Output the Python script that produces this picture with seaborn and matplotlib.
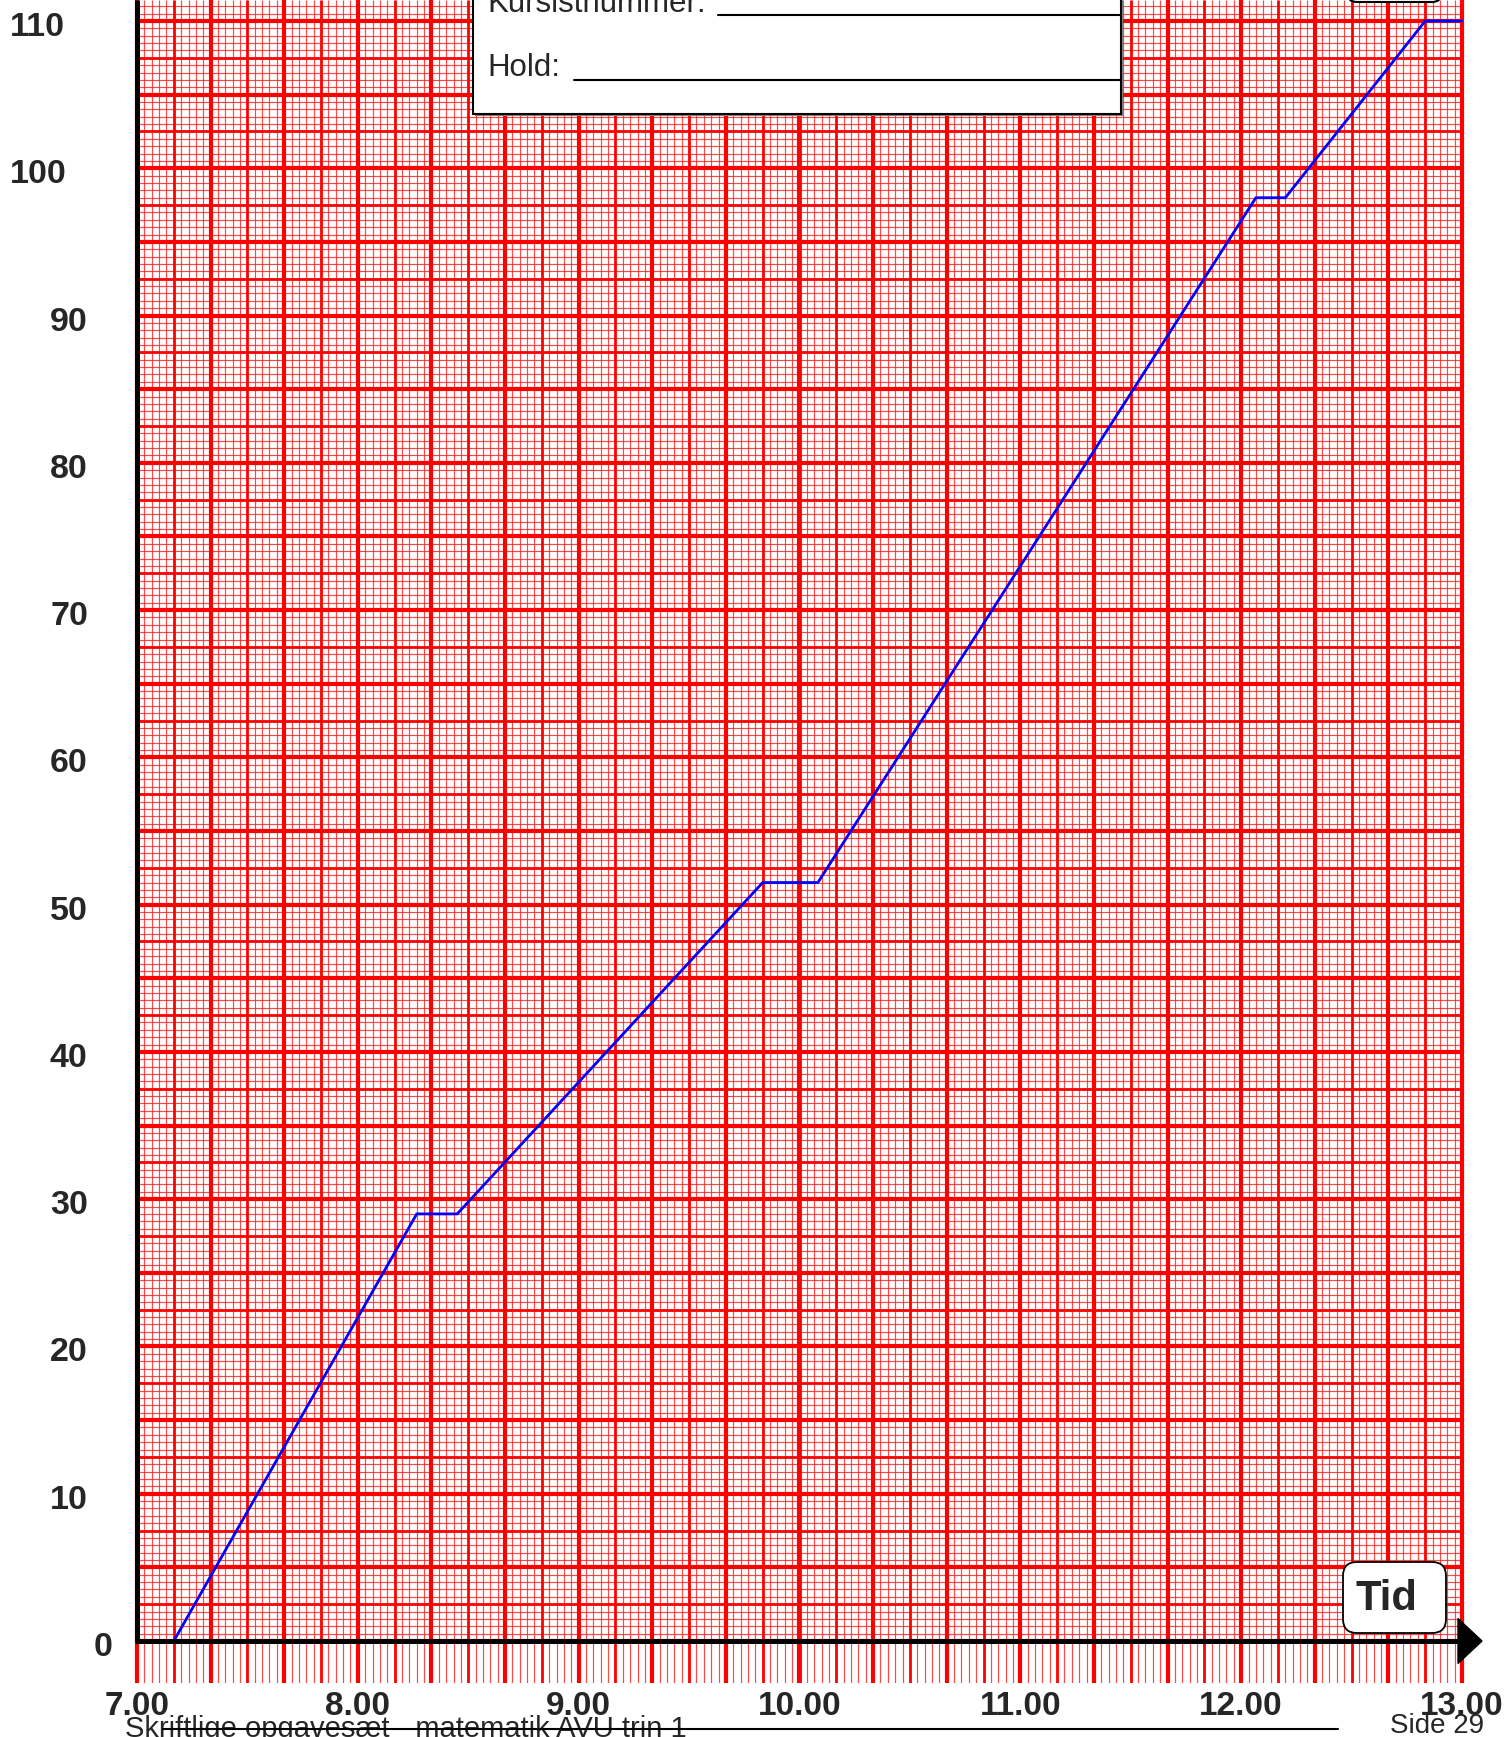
import numpy as np
import pandas as pd
import matplotlib.pyplot as plt
import matplotlib.transforms as mtransforms
from matplotlib.patches import Rectangle, FancyBboxPatch, Polygon
from matplotlib.lines import Line2D
import seaborn as sns

sns.set_style("white")
plt.rcParams["font.family"] = ["Liberation Sans", "DejaVu Sans"]

# data: clock time and distance
times = ["7:10", "8:16", "8:27", "9:50", "10:05", "12:04", "12:12", "12:50", "13:00"]
dist = [0, 29, 29, 51.5, 51.5, 98, 98, 110, 110]

x_ticks = [7, 8, 9, 10, 11, 12, 13]
x_labels = ["7.00", "8.00", "9.00", "10.00", "11.00", "12.00", "13.00"]
y_ticks = [0, 10, 20, 30, 40, 50, 60, 70, 80, 90, 100, 110]
y_labels = ["0", "10", "20", "30", "40", "50", "60", "70", "80", "90", "100", "110"]

footer = "Skriftlige opgavesæt - matematik AVU trin 1"
page = "Side 29"
form_fields = ["Kursistnummer:", "Hold:"]
x_title = "Tid"


def to_hours(t):
    h, m = t.split(":")
    return int(h) + int(m) / 60


df = pd.DataFrame({"tid": [to_hours(t) for t in times], "km": dist})

W, H = 1509, 1737
fig = plt.figure(figsize=(W / 100, H / 100), dpi=100)
PX = mtransforms.IdentityTransform()


def P(x, y):  # pixel position measured from top-left
    return x, H - y


# axes: 7.00 at x=137px, 13.00 at 1462px; 0 at y=1641px, 110 at 21px
x0px, x1px = 137, 1462
ppu_x = (x1px - x0px) / 6
ppu_y = (1641 - 21) / 110
left, right = 130, 1470
bottom = 1683
ax = fig.add_axes([left / W, (H - bottom) / H, (right - left) / W, bottom / H])
ax.set_xlim(7 - (x0px - left) / ppu_x, 13 + (right - x1px) / ppu_x)
ax.set_ylim(-(bottom - 1641) / ppu_y, 110 + 21 / ppu_y)
ybot, ymax = ax.get_ylim()
for s in ax.spines.values():
    s.set_visible(False)

# graph paper
fine_x = np.arange(7, 13.0001, 2 / 60)
med_x = np.arange(7, 13.0001, 10 / 60)
thick_x = np.arange(7, 13.0001, 20 / 60)
fine_y = np.arange(0, ymax, 0.5)
med_y = np.arange(0, ymax, 2.5)
thick_y = np.arange(0, ymax, 5)

ax.vlines(fine_x, ybot, ymax, color="#ff1a1a", lw=0.85, alpha=0.8, zorder=1)
ax.hlines(fine_y, 7, 13, color="#ff1a1a", lw=0.85, alpha=0.8, zorder=1)
ax.vlines(med_x, ybot, ymax, color="#ff0000", lw=2.0, zorder=2)
ax.hlines(med_y, 7, 13, color="#ff0000", lw=2.0, zorder=2)
ax.vlines(thick_x, ybot, ymax, color="#ff0000", lw=3.0, zorder=3)
ax.hlines(thick_y, 7, 13, color="#ff0000", lw=3.0, zorder=3)

sns.lineplot(data=df, x="tid", y="km", sort=False, estimator=None,
             color="#0000ff", lw=2.0, ax=ax, zorder=5)

# black axes lines and arrow
ax.hlines(0, 7 - 2 / ppu_x, 13, color="black", lw=3.6, zorder=6, clip_on=False)
ax.vlines(7, 0, ymax, color="black", lw=3.6, zorder=6, clip_on=False)
arrow = Polygon([(13 - 4 / ppu_x, 22.5 / ppu_y), (13 - 4 / ppu_x, -22.5 / ppu_y),
                 (13 + 20 / ppu_x, 0)], closed=True, color="black", zorder=7, clip_on=False)
ax.add_patch(arrow)

ax.set_xlabel("")
ax.set_ylabel("")
ax.set_xticks(x_ticks, x_labels, fontsize=24, fontweight="bold")
ax.tick_params(axis="x", length=0, pad=6)
ax.set_yticks([])

# y labels sit at uneven x positions in the original
lab_left = {3: 10, 2: 50, 1: 94}
ytr = mtransforms.blended_transform_factory(fig.transFigure, ax.transData) + \
    mtransforms.ScaledTranslation(0, -15 / 100, fig.dpi_scale_trans)
for v, lab in zip(y_ticks, y_labels):
    fig.text(lab_left[len(lab)] / W, v, lab, transform=ytr, fontsize=24.5,
             fontweight="bold", ha="left", va="baseline")

# form box at the top
fig.add_artist(Rectangle(P(475, 116), 648, 200, transform=PX, facecolor="#808080",
                         edgecolor="none", zorder=8))
fig.add_artist(Rectangle(P(473, 114), 648, 200, transform=PX, facecolor="white",
                         edgecolor="black", lw=1.5, zorder=9))
fig.text(*P(487, 12), form_fields[0], transform=PX, fontsize=22.5, va="baseline", zorder=10)
fig.text(*P(487, 76), form_fields[1], transform=PX, fontsize=22.5, va="baseline", zorder=10)
fig.add_artist(Line2D([718, 1121], [H - 14.5, H - 14.5], transform=PX, color="black", lw=1.5, zorder=10))
fig.add_artist(Line2D([574, 1121], [H - 80, H - 80], transform=PX, color="black", lw=1.5, zorder=10))

# partly hidden box at top right
fig.add_artist(FancyBboxPatch(P(1347, 2), 95, 60, boxstyle="round,pad=0,rounding_size=10",
                              transform=PX, facecolor="white", edgecolor="black", lw=1.5, zorder=9))

# Tid box
fig.add_artist(FancyBboxPatch(P(1343, 1633), 103, 71, boxstyle="round,pad=0,rounding_size=14",
                              transform=PX, facecolor="white", edgecolor="black", lw=1.3, zorder=9))
fig.text(*P(1386, 1610), x_title, transform=PX, fontsize=30, fontweight="bold",
         ha="center", va="baseline", zorder=10)

# footer
fig.text(*P(125, 1737), footer, transform=PX, fontsize=21, va="baseline", zorder=10)
fig.text(*P(1390, 1733), page, transform=PX, fontsize=20, va="baseline", zorder=10)
fig.add_artist(Line2D([163, 1338], [H - 1729, H - 1729], transform=PX, color="black", lw=1.5, zorder=11))

fig.savefig("out.png", dpi=100)
